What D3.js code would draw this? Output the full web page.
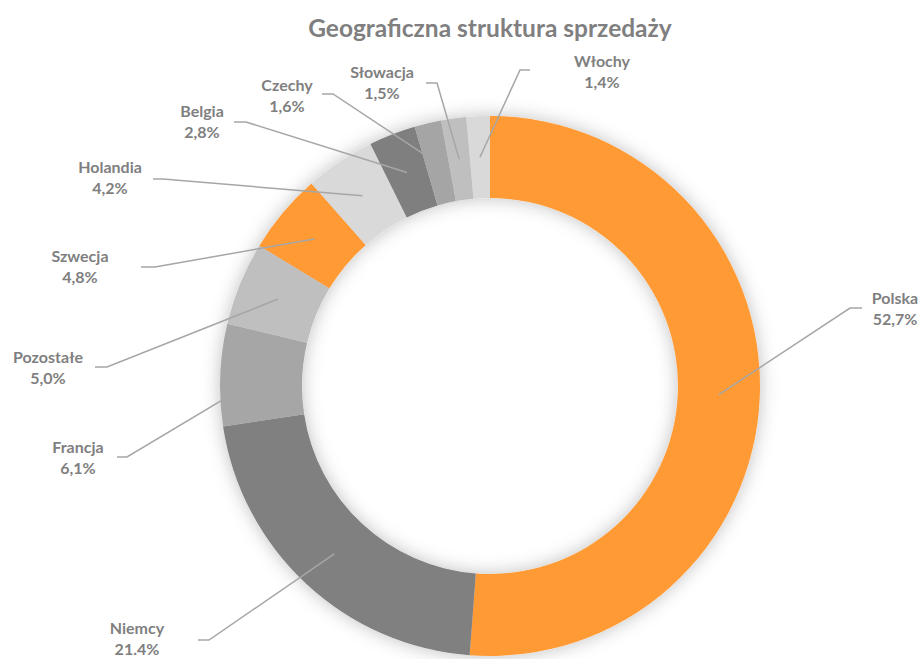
<!DOCTYPE html>
<html>
<head>
<meta charset="utf-8">
<script src="https://cdn.jsdelivr.net/npm/d3@7"></script>
<style>
  body { margin: 0; background: #fff; }
  text { font-family: Lato, "Open Sans", sans-serif; font-weight: bold; fill: #7F7F7F; }
</style>
</head>
<body>
<svg id="chart" width="923" height="659"></svg>
<script>
// data (arc share in %, label as printed)
const countries = ['Polska', 'Niemcy', 'Francja', 'Pozostałe', 'Szwecja', 'Holandia', 'Belgia', 'Czechy', 'Słowacja', 'Włochy'];
const shares = [51.2, 21.4, 6.1, 5.0, 4.8, 4.2, 2.8, 1.6, 1.5, 1.4];
const shareLabels = ['52,7%', '21.4%', '6,1%', '5,0%', '4,8%', '4,2%', '2,8%', '1,6%', '1,5%', '1,4%'];
const colors = ['#FF9A35', '#808080', '#A6A6A6', '#BFBFBF', '#FF9A35', '#D9D9D9', '#7F7F7F', '#A5A5A5', '#BFBFBF', '#D9D9D9'];

// label layout: text centre x, first baseline y, elbow [x,y], horizontal end x
const labelLayout = [
  {tx: 895, ty: 304, ex: 850, ey: 308, hx: 862},
  {tx: 137, ty: 634, ex: 209, ey: 640, hx: 198},
  {tx: 78,  ty: 453, ex: 127, ey: 457, hx: 117},
  {tx: 48,  ty: 363, ex: 107, ey: 367, hx: 95},
  {tx: 80,  ty: 262, ex: 155, ey: 267, hx: 141},
  {tx: 110, ty: 173, ex: 163, ey: 179, hx: 153},
  {tx: 202, ty: 117, ex: 246, ey: 122, hx: 234},
  {tx: 287, ty: 91,  ex: 333, ey: 94,  hx: 322},
  {tx: 382, ty: 78,  ex: 437, ey: 83,  hx: 426},
  {tx: 602, ty: 67,  ex: 520, ey: 70,  hx: 530}
];

const width = 923, height = 659;
const cx = 490, cy = 386;
const outerR = 270, innerR = 188;

const svg = d3.select('#chart');

const defs = svg.append('defs');
const glow = defs.append('filter').attr('id', 'glow')
  .attr('x', '-20%').attr('y', '-20%').attr('width', '140%').attr('height', '140%');
glow.append('feDropShadow')
  .attr('dx', 0).attr('dy', 0).attr('stdDeviation', 9)
  .attr('flood-color', '#000').attr('flood-opacity', 0.25);

svg.append('text')
  .attr('x', cx).attr('y', 37)
  .attr('text-anchor', 'middle')
  .style('font-size', '24.5px')
  .text('Geograficzna struktura sprzedaży');

let data = countries.map((c, i) => ({name: c, value: shares[i], label: shareLabels[i], color: colors[i], lay: labelLayout[i]}));

let pie = d3.pie().sort(null).value(d => d.value);
let arc = d3.arc().innerRadius(innerR).outerRadius(outerR);
let midArc = d3.arc().innerRadius((innerR + outerR) / 2).outerRadius((innerR + outerR) / 2);

let g = svg.append('g').attr('transform', `translate(${cx},${cy})`);

g.append('g').attr('filter', 'url(#glow)')
  .selectAll('path')
  .data(pie(data))
  .join('path')
  .attr('d', arc)
  .attr('fill', d => d.data.color);

// leader lines
svg.append('g').selectAll('polyline')
  .data(pie(data))
  .join('polyline')
  .attr('fill', 'none')
  .attr('stroke', '#A6A6A6')
  .attr('stroke-width', 1.5)
  .attr('points', d => {
    let c = midArc.centroid(d);
    let l = d.data.lay;
    return [[cx + c[0], cy + c[1]], [l.ex, l.ey], [l.hx, l.ey]].map(p => p.join(',')).join(' ');
  });

let labels = svg.append('g').selectAll('text')
  .data(data)
  .join('text')
  .attr('text-anchor', 'middle')
  .style('font-size', '16px');

labels.append('tspan')
  .attr('x', d => d.lay.tx).attr('y', d => d.lay.ty)
  .text(d => d.name);
labels.append('tspan')
  .attr('x', d => d.lay.tx).attr('y', d => d.lay.ty + 21)
  .text(d => d.label);
</script>
</body>
</html>
